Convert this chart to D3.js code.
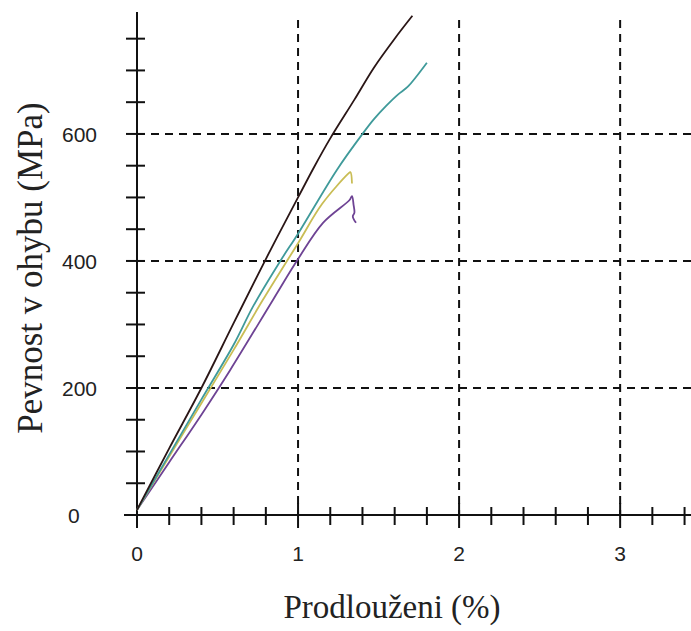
<!DOCTYPE html>
<html>
<head>
<meta charset="utf-8">
<script src="https://cdn.jsdelivr.net/npm/d3@7"></script>
<style>
  body { margin: 0; background: #fff; }
</style>
</head>
<body>
<div id="my_dataviz"></div>
<script>
// curve data: elongation (%) and flexural strength (MPa)
var blackX = [0, 0.2, 0.4, 0.6, 0.8, 1.0, 1.1, 1.2, 1.35, 1.47, 1.6, 1.71];
var blackY = [8, 105, 200, 302, 403, 500, 548, 593, 654, 704, 750, 786];

var cyanX = [0, 0.2, 0.4, 0.6, 0.72, 0.89, 1.0, 1.24, 1.4, 1.47, 1.55, 1.62, 1.68, 1.74, 1.8];
var cyanY = [8, 95, 182, 268, 328, 400, 443, 543, 600, 623, 645, 662, 674, 692, 712];

var yellowX = [0, 0.2, 0.4, 0.6, 0.78, 1.0, 1.15, 1.31, 1.325, 1.335];
var yellowY = [8, 92, 176, 260, 338, 428, 490, 537, 540, 522];

var purpleX = [0, 0.2, 0.4, 0.578, 0.845, 1.0, 1.155, 1.32, 1.335, 1.345, 1.35, 1.34, 1.36];
var purpleY = [8, 83, 158, 228, 339, 403, 460, 496, 502, 488, 476, 470, 460];

var xTicks = [0, 1, 2, 3];
var yTicks = [0, 200, 400, 600];

var series = [
  { x: purpleX, y: purpleY, color: "#6e4394" },
  { x: yellowX, y: yellowY, color: "#c9bd55" },
  { x: cyanX, y: cyanY, color: "#3f9a9a" },
  { x: blackX, y: blackY, color: "#2a1616" }
];

var width = 691, height = 631;
var sansFont = "'Liberation Sans', Arial, sans-serif";
var serifFont = "'Liberation Serif', 'Times New Roman', 'DejaVu Serif', serif";

var svg = d3.select("#my_dataviz")
  .append("svg")
  .attr("width", width)
  .attr("height", height);

var x = d3.scaleLinear().domain([0, 3.44]).range([137, 691]);
var y = d3.scaleLinear().domain([0, 792]).range([515, 12]);

// dashed grid
svg.selectAll(".vgrid")
  .data(xTicks.slice(1))
  .enter().append("line")
  .attr("x1", function (d) { return x(d); })
  .attr("x2", function (d) { return x(d); })
  .attr("y1", 20)
  .attr("y2", y(0))
  .attr("stroke", "#111")
  .attr("stroke-width", 2)
  .attr("stroke-dasharray", "8,6");

svg.selectAll(".hgrid")
  .data(yTicks.slice(1))
  .enter().append("line")
  .attr("x1", x(0))
  .attr("x2", width)
  .attr("y1", function (d) { return y(d); })
  .attr("y2", function (d) { return y(d); })
  .attr("stroke", "#111")
  .attr("stroke-width", 2)
  .attr("stroke-dasharray", "8,6");

// minor ticks (crossing the axis lines)
var xMinor = d3.range(0, 3.41, 0.2);
svg.selectAll(".xminor")
  .data(xMinor)
  .enter().append("line")
  .attr("x1", function (d) { return x(d); })
  .attr("x2", function (d) { return x(d); })
  .attr("y1", function (d) { return Math.abs(d - Math.round(d)) < 0.01 ? y(0) - 12 : y(0) - 8; })
  .attr("y2", function (d) { return Math.abs(d - Math.round(d)) < 0.01 ? y(0) + 13 : y(0) + 10; })
  .attr("stroke", "#111")
  .attr("stroke-width", 2);

var yMinor = d3.range(50, 751, 50);
svg.selectAll(".yminor")
  .data(yMinor)
  .enter().append("line")
  .attr("x1", x(0) - 11)
  .attr("x2", x(0) + 8)
  .attr("y1", function (d) { return y(d); })
  .attr("y2", function (d) { return y(d); })
  .attr("stroke", "#111")
  .attr("stroke-width", 2);

// axis lines
svg.append("line")
  .attr("x1", 124).attr("x2", width)
  .attr("y1", y(0)).attr("y2", y(0))
  .attr("stroke", "#111").attr("stroke-width", 2);
svg.append("line")
  .attr("x1", x(0)).attr("x2", x(0))
  .attr("y1", 12).attr("y2", y(0) + 12)
  .attr("stroke", "#111").attr("stroke-width", 2);

// tick labels
svg.selectAll(".xlab")
  .data(xTicks)
  .enter().append("text")
  .attr("x", function (d) { return x(d); })
  .attr("y", 561)
  .attr("text-anchor", "middle")
  .style("font-family", sansFont)
  .style("font-size", "21px")
  .attr("fill", "#222")
  .text(function (d) { return d; });

svg.selectAll(".ylab")
  .data(yTicks)
  .enter().append("text")
  .attr("x", function (d) { return d === 0 ? 68 : 62; })
  .attr("y", function (d) { return y(d) + 8; })
  .attr("text-anchor", "start")
  .style("font-family", sansFont)
  .style("font-size", "21px")
  .attr("fill", "#222")
  .text(function (d) { return d; });

// axis titles
svg.append("text")
  .attr("x", 392)
  .attr("y", 618)
  .attr("text-anchor", "middle")
  .style("font-family", serifFont)
  .style("font-size", "33px")
  .attr("fill", "#222")
  .text("Prodlouženi (%)");

svg.append("text")
  .attr("transform", "translate(42,268) rotate(-90)")
  .attr("text-anchor", "middle")
  .style("font-family", serifFont)
  .style("font-size", "35px")
  .attr("fill", "#222")
  .text("Pevnost v ohybu (MPa)");

// the curves
var line = d3.line()
  .curve(d3.curveCatmullRom.alpha(0.5))
  .x(function (d) { return x(d[0]); })
  .y(function (d) { return y(d[1]); });

series.forEach(function (s) {
  var pts = s.x.map(function (v, i) { return [v, s.y[i]]; });
  svg.append("path")
    .datum(pts)
    .attr("fill", "none")
    .attr("stroke", s.color)
    .attr("stroke-width", 1.8)
    .attr("stroke-linejoin", "round")
    .attr("d", line);
});
</script>
</body>
</html>
